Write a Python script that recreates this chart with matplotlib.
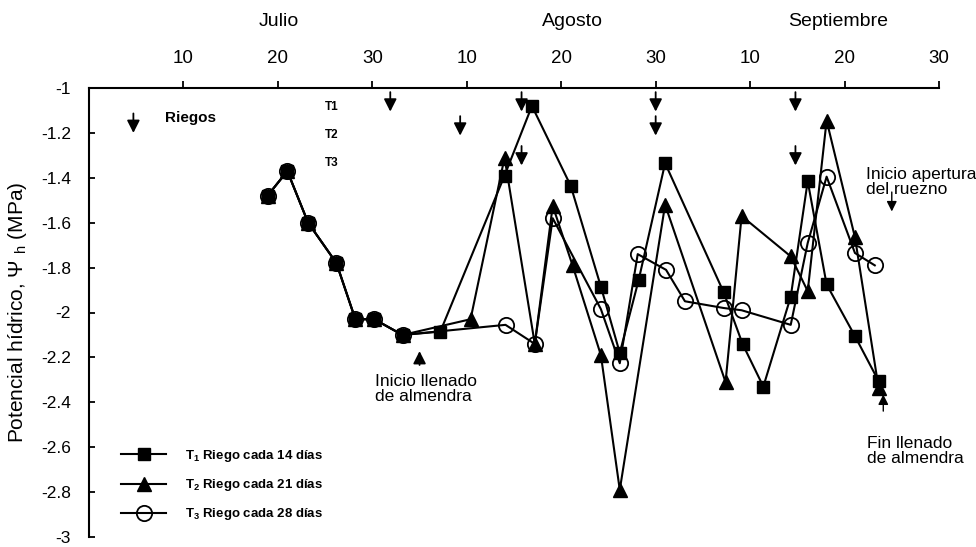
import matplotlib
matplotlib.use("Agg")
import matplotlib.pyplot as plt

plt.rcParams['font.family'] = ['Liberation Sans', 'DejaVu Sans']
plt.rcParams['mathtext.fontset'] = 'custom'
plt.rcParams['mathtext.rm'] = 'Liberation Sans'
plt.rcParams['mathtext.it'] = 'Liberation Sans:italic'
plt.rcParams['mathtext.bf'] = 'Liberation Sans:bold'

# x = day counted from 1 July (Aug d -> 30 + d, Sep d -> 60 + d), as on the original axis
t1_day = [18.9, 21.0, 23.2, 26.2, 28.2, 30.2, 33.2, 37.2, 44.0, 46.9, 51.0, 54.2,
          56.2, 58.2, 61.0, 67.2, 69.2, 71.4, 74.3, 76.1, 78.1, 81.1, 83.6]
t1_psi = [-1.48, -1.37, -1.60, -1.78, -2.03, -2.03, -2.10, -2.085, -1.39, -1.08, -1.435, -1.885,
          -2.18, -1.855, -1.335, -1.91, -2.14, -2.33, -1.93, -1.415, -1.875, -2.105, -2.305]

t2_day = [18.9, 21.0, 23.2, 26.2, 28.2, 30.2, 33.2, 40.4, 44.0, 47.2, 49.1, 51.2,
          54.2, 56.2, 61.0, 67.4, 69.1, 74.3, 76.1, 78.1, 81.1, 83.6]
t2_psi = [-1.48, -1.37, -1.60, -1.78, -2.03, -2.03, -2.10, -2.03, -1.31, -2.14, -1.525, -1.79,
          -2.19, -2.79, -1.52, -2.31, -1.57, -1.75, -1.905, -1.145, -1.665, -2.335]

t3_day = [18.9, 21.0, 23.2, 26.2, 28.2, 30.2, 33.2, 44.1, 47.2, 49.1, 54.2, 56.2,
          58.1, 61.1, 63.1, 67.2, 69.1, 74.3, 76.1, 78.1, 81.1, 83.2]
t3_psi = [-1.48, -1.37, -1.60, -1.78, -2.03, -2.03, -2.10, -2.055, -2.14, -1.58, -1.985, -2.226,
          -1.74, -1.81, -1.95, -1.98, -1.99, -2.055, -1.69, -1.395, -1.735, -1.79]

# irrigation dates (arrows) per treatment
riego_t1 = [31.9, 45.8, 60.0, 74.8]
riego_t2 = [39.3, 60.0]
riego_t3 = [45.8, 74.8]

tick_pos = [10, 20, 30, 40, 50, 60, 70, 80, 90]
tick_lab = ['10', '20', '30', '10', '20', '30', '10', '20', '30']
months = ['Julio', 'Agosto', 'Septiembre']
month_pos = [20.1, 51.2, 79.3]

fig = plt.figure(figsize=(9.76, 5.47), dpi=100)
ax = fig.add_axes([89 / 976, 1 - 537 / 547, 850 / 976, 449 / 547])

ax.plot(t3_day, t3_psi, '-o', color='black', lw=1.5, ms=11, mfc='none', mew=1.3,
        label=r'T$_{\mathbf{3}}$ Riego cada 28 días')
ax.plot(t1_day, t1_psi, '-s', color='black', lw=1.5, ms=8.5,
        label=r'T$_{\mathbf{1}}$ Riego cada 14 días')
ax.plot(t2_day, t2_psi, '-^', color='black', lw=1.5, ms=9.5,
        label=r'T$_{\mathbf{2}}$ Riego cada 21 días')

ax.set_xlim(0, 90)
ax.set_ylim(-3, -1)
ax.spines['right'].set_visible(False)
ax.spines['bottom'].set_visible(False)
ax.spines['top'].set_linewidth(1.5)
ax.spines['left'].set_linewidth(1.5)
ax.xaxis.tick_top()
ax.set_xticks(tick_pos)
ax.set_xticklabels(tick_lab)
ax.tick_params(axis='x', direction='out', length=5, width=1.3, pad=10, labelsize=13.5)
ax.set_yticks([-1, -1.2, -1.4, -1.6, -1.8, -2, -2.2, -2.4, -2.6, -2.8, -3])
ax.set_yticklabels(['-1', '-1.2', '-1.4', '-1.6', '-1.8', '-2', '-2.2', '-2.4', '-2.6', '-2.8', '-3'])
ax.tick_params(axis='y', direction='in', length=4, width=1.3, pad=13, labelsize=12.5)

for m, xp in zip(months, month_pos):
    ax.text(xp, 1.148, m, transform=ax.get_xaxis_transform(), ha='center', va='center', fontsize=14)

ax.set_ylabel(r'Potencial hídrico, $\Psi$ $_{\mathrm{h}}$ (MPa)', fontsize=15)
ax.yaxis.set_label_coords(-0.0706, 0.5)

# irrigation arrows
arrow_kw = dict(arrowstyle='-|>,head_length=0.75,head_width=0.38', color='black', lw=1.3,
                mutation_scale=10, shrinkA=0, shrinkB=0)
small_kw = dict(arrowstyle='-|>,head_length=0.6,head_width=0.3', color='black', lw=1.0,
                mutation_scale=10, shrinkA=0, shrinkB=0)
for xr in riego_t1:
    ax.annotate('', xy=(xr, -1.105), xytext=(0, 14), textcoords='offset points', arrowprops=arrow_kw)
for xr in riego_t2:
    ax.annotate('', xy=(xr, -1.212), xytext=(0, 14), textcoords='offset points', arrowprops=arrow_kw)
for xr in riego_t3:
    ax.annotate('', xy=(xr, -1.345), xytext=(0, 14), textcoords='offset points', arrowprops=arrow_kw)
ax.annotate('', xy=(4.7, -1.20), xytext=(0, 14), textcoords='offset points', arrowprops=arrow_kw)
ax.text(8.05, -1.134, 'Riegos', fontsize=11, fontweight='bold', va='center', ha='left')
ax.text(25.0, -1.083, 'T1', fontsize=8.5, fontweight='bold', va='center', ha='left')
ax.text(25.0, -1.209, 'T2', fontsize=8.5, fontweight='bold', va='center', ha='left')
ax.text(25.0, -1.335, 'T3', fontsize=8.5, fontweight='bold', va='center', ha='left')

# phenology notes
ax.annotate('', xy=(35.0, -2.172), xytext=(0, -10), textcoords='offset points', arrowprops=arrow_kw)
ax.text(30.3, -2.34, 'Inicio llenado\nde almendra', fontsize=12.5, va='center', ha='left',
        linespacing=1.0)
ax.annotate('', xy=(85.0, -1.55), xytext=(0, 14), textcoords='offset points', arrowprops=small_kw)
ax.text(82.3, -1.419, 'Inicio apertura\ndel ruezno', fontsize=12.5, va='center', ha='left',
        linespacing=1.0)
ax.annotate('', xy=(84.1, -2.365), xytext=(0, -12), textcoords='offset points', arrowprops=small_kw)
ax.text(82.4, -2.617, 'Fin llenado\nde almendra', fontsize=12.5, va='center', ha='left',
        linespacing=1.0)

h, l = ax.get_legend_handles_labels()
order = [1, 2, 0]
ax.legend([h[i] for i in order], [l[i] for i in order], loc='upper left',
          bbox_to_anchor=(0.038, 0.198), frameon=False, borderpad=0, borderaxespad=0,
          handlelength=3.4, handletextpad=1.4, labelspacing=1.0,
          prop={'size': 9.5, 'weight': 'bold'})

fig.savefig('out.png', dpi=100)
